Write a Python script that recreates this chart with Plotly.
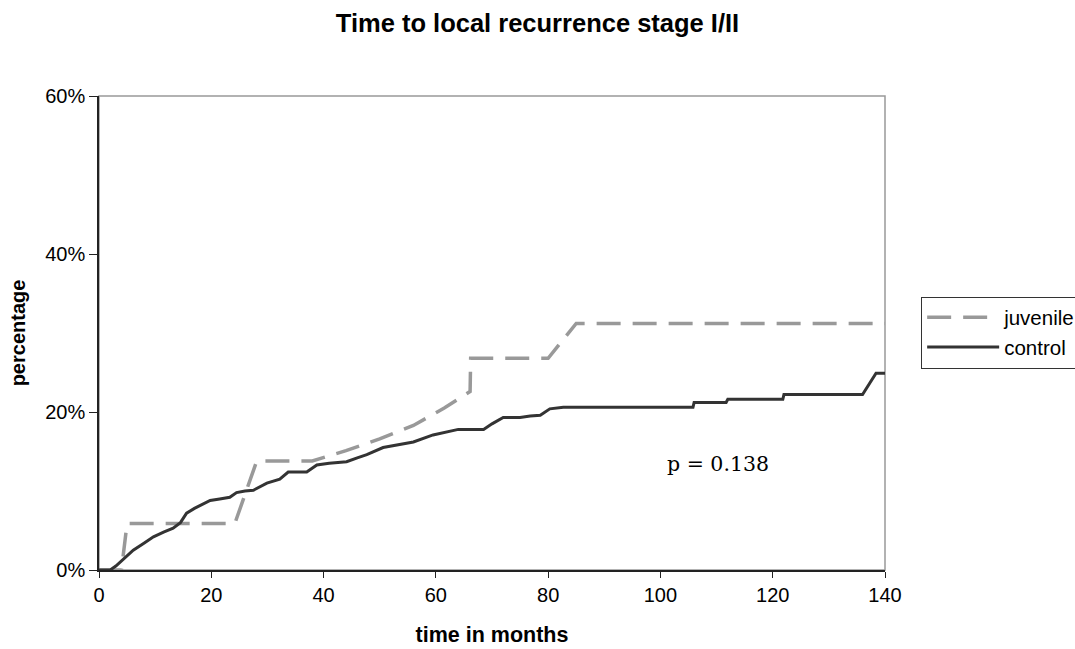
import plotly.graph_objects as go

# Data (months, cumulative percentage)
juvenile_t = [0, 4, 5, 24.2, 28.1, 38, 44, 50, 56, 61.5, 66.1, 66.2, 80, 85, 140]
juvenile_pct = [0, 0, 5.9, 5.9, 13.8, 13.8, 15.1, 16.6, 18.3, 20.5, 22.6, 26.8, 26.8, 31.2, 31.2]

control_t = [0, 2, 3, 4.3, 6.1, 8, 9.7, 11.5, 13.2, 14.5, 15.6, 17, 18.5, 19.8, 21.5,
             23.3, 24.5, 26, 27.5, 29.9, 32.2, 33.7, 37, 38.8, 41, 44.1, 46, 47.7, 50.6,
             53, 56, 59.5, 62, 64, 68.5, 70, 72, 75, 76.8, 78.6, 80.3, 82.7, 105.8, 106,
             111.7, 112, 121.8, 122, 136, 138.4, 140]
control_pct = [0, 0, 0.5, 1.3, 2.5, 3.4, 4.2, 4.8, 5.3, 6.0, 7.2, 7.8, 8.3, 8.8, 9.0,
               9.2, 9.8, 10.0, 10.1, 11.0, 11.5, 12.4, 12.4, 13.3, 13.5, 13.7, 14.2, 14.6, 15.5,
               15.8, 16.2, 17.1, 17.5, 17.8, 17.8, 18.5, 19.3, 19.3, 19.5, 19.6, 20.4, 20.6, 20.6, 21.2,
               21.2, 21.6, 21.6, 22.2, 22.2, 24.9, 24.9]

x_ticks = [0, 20, 40, 60, 80, 100, 120, 140]
y_ticks = [0, 20, 40, 60]
y_tick_labels = ["0%", "20%", "40%", "60%"]

fig = go.Figure()
fig.add_trace(go.Scatter(x=juvenile_t, y=juvenile_pct, mode="lines", name="juvenile",
                         line=dict(color="#999999", width=3.5, dash="24px,12px")))
fig.add_trace(go.Scatter(x=control_t, y=control_pct, mode="lines", name="control",
                         line=dict(color="#333333", width=3)))

fig.add_shape(type="rect", xref="paper", yref="paper", x0=0, y0=0, x1=1, y1=1,
              line=dict(color="#999999", width=1.5), layer="below")

fig.add_annotation(x=110.3, y=13.4, xref="x", yref="y", text="p = 0.138",
                   showarrow=False, yanchor="middle", xanchor="center",
                   font=dict(family="DejaVu Serif", size=20.5, color="#000000"))

fig.update_layout(
    width=1075, height=649,
    margin=dict(l=99, r=190, t=96, b=79, autoexpand=False),
    paper_bgcolor="white", plot_bgcolor="white",
    font=dict(family="Liberation Sans, Arial", size=20, color="#000000"),
    title=dict(text="<b>Time to local recurrence stage I/II</b>", x=0.5, xanchor="center",
               y=0.964, yanchor="middle", font=dict(size=25.5)),
    xaxis=dict(range=[0, 140], tickvals=x_ticks, showgrid=False, zeroline=False,
               showline=True, linecolor="#222222", linewidth=1.5, ticks="outside",
               ticklen=6, tickcolor="#222222", tickfont=dict(size=20),
               title=dict(text="<b>time in months</b>", font=dict(size=21.5), standoff=22)),
    yaxis=dict(range=[0, 60], tickvals=y_ticks, ticktext=y_tick_labels, showgrid=False,
               zeroline=False, showline=True, linecolor="#222222", linewidth=1.5,
               ticks="outside", ticklen=8, tickcolor="#222222", tickfont=dict(size=20),
               title=dict(text="<b>percentage</b>", font=dict(size=20), standoff=14)),
    legend=dict(x=1.046, xanchor="left", y=0.577, yanchor="top",
                bordercolor="#333333", borderwidth=1, bgcolor="white",
                font=dict(size=20.5), itemwidth=72, tracegroupgap=0),
    showlegend=True,
)

fig.write_html("out.html")
